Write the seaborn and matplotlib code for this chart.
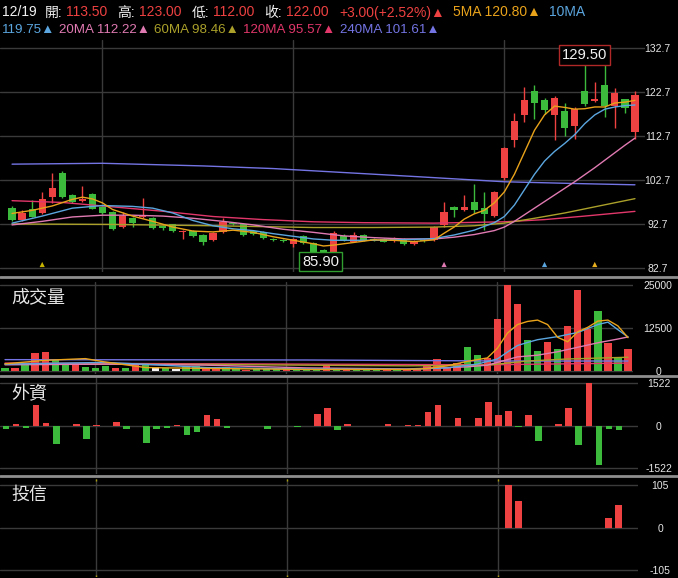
import matplotlib
matplotlib.use("Agg")
import matplotlib.pyplot as plt
from matplotlib.lines import Line2D
import pandas as pd
import seaborn as sns

W, H = 678, 578

# ---- daily K data ----
opens = [96.3, 93.6, 96.0, 95.3, 98.9, 104.2, 99.3, 98.0, 99.5, 96.6,
         95.5, 92.1, 94.0, 94.4, 94.0, 92.3, 92.6, 90.8, 91.1, 90.2,
         89.1, 90.9, 93.0, 92.7, 91.0, 90.8, 89.4, 89.1, 88.2, 90.0,
         88.3, 86.8, 86.4, 90.0, 88.7, 90.2, 89.2, 89.4, 88.9, 89.3,
         88.2, 89.0, 89.1, 92.5, 96.5, 95.8, 97.8, 96.3, 94.6, 103.1,
         111.9, 117.5, 122.9, 120.9, 117.5, 118.4, 115.0, 122.9, 120.7, 124.4,
         119.5, 121.0, 113.5]
highs = [96.8, 95.8, 98.2, 99.9, 104.2, 104.7, 99.6, 101.3, 99.8, 96.9,
         95.7, 95.4, 94.3, 98.5, 94.2, 92.5, 92.8, 91.4, 91.3, 90.4,
         90.8, 94.0, 93.2, 93.0, 91.3, 91.0, 89.6, 89.3, 89.5, 90.3,
         88.5, 87.0, 91.0, 90.4, 90.9, 90.4, 89.5, 89.6, 89.8, 89.5,
         89.0, 89.2, 92.3, 97.8, 96.8, 99.3, 101.9, 99.9, 100.2, 110.3,
         117.9, 123.9, 124.4, 121.3, 121.7, 120.3, 119.2, 129.5, 124.9, 128.8,
         123.6, 121.2, 123.0]
lows = [93.3, 93.3, 94.2, 95.0, 97.4, 98.6, 97.5, 97.6, 96.0, 94.9,
        91.3, 91.9, 92.0, 94.0, 91.5, 91.4, 90.9, 89.3, 89.8, 88.0,
        88.9, 90.7, 92.4, 90.0, 90.3, 89.4, 88.8, 88.6, 87.5, 88.1,
        86.2, 85.9, 86.2, 88.9, 88.5, 88.9, 88.9, 88.5, 88.7, 88.0,
        88.0, 88.6, 88.9, 92.0, 94.2, 95.6, 95.1, 91.3, 94.4, 102.8,
        110.3, 115.8, 116.5, 117.8, 111.8, 112.6, 112.0, 119.6, 120.5, 117.1,
        114.6, 117.9, 112.0]
closes = [93.6, 95.1, 94.4, 98.3, 100.8, 98.9, 97.8, 98.3, 96.2, 95.1,
          91.5, 94.6, 93.0, 94.8, 91.7, 91.7, 91.1, 91.1, 90.0, 88.7,
          90.6, 93.1, 92.8, 90.2, 90.5, 89.6, 89.0, 88.8, 89.3, 88.3,
          86.4, 86.0, 90.6, 89.1, 90.2, 89.1, 89.0, 88.7, 89.3, 88.2,
          88.8, 88.9, 92.1, 95.5, 95.8, 96.5, 95.8, 95.0, 99.9, 109.9,
          116.0, 120.9, 120.1, 118.5, 121.4, 114.6, 118.8, 120.0, 121.1, 119.5,
          122.4, 119.0, 122.0]
month_days = [9, 28, 49]

# moving averages of price (sampled along the lines)
ma5_i = [0, 2, 4, 6, 7, 8, 9, 10, 12, 14, 16, 18, 20, 22, 24, 26, 28, 30, 31, 32, 34, 36, 38, 40, 42,
         43, 44, 45, 46, 47, 48, 49, 50, 51, 52, 53, 54, 55, 56, 57, 58, 59, 60, 61, 62]
ma5_v = [95.1, 95.8, 96.8, 98.3, 98.8, 98.4, 97.5, 96.0, 94.5, 93.3, 92.0, 91.1, 90.9, 91.3, 90.8,
         89.8, 89.0, 88.2, 87.7, 87.9, 88.5, 89.1, 89.0, 88.7, 89.1, 90.6, 92.0, 93.8, 95.0, 95.8,
         97.5, 100.0, 104.0, 109.0, 114.0, 117.5, 119.5, 119.2, 118.8, 118.9, 119.3, 119.3, 120.2,
         120.4, 120.8]
ma10_i = [0, 3, 6, 9, 12, 14, 16, 18, 20, 22, 24, 26, 28, 30, 32, 34, 36, 38, 40, 42, 44, 46, 48,
          49, 50, 51, 52, 53, 54, 55, 56, 57, 58, 59, 60, 61, 62]
ma10_v = [92.9, 94.5, 96.3, 96.9, 96.7, 96.3, 95.2, 93.5, 92.3, 91.6, 91.2, 90.5, 89.9, 89.3, 89.0,
          89.0, 89.0, 89.1, 89.2, 89.4, 90.2, 91.3, 93.0, 94.4, 97.0, 100.5, 104.0, 107.0, 109.2,
          111.0, 113.0, 115.5, 117.5, 118.8, 119.3, 119.6, 119.75]
ma20_i = [0, 3, 6, 9, 12, 15, 18, 21, 24, 27, 30, 33, 36, 39, 42, 44, 46, 48, 49, 50, 51, 52, 53,
          54, 55, 56, 57, 58, 59, 60, 61, 62]
ma20_v = [92.5, 93.3, 94.3, 94.7, 94.7, 94.5, 94.0, 93.3, 92.5, 91.5, 90.8, 90.0, 89.6, 89.3, 89.3,
          89.7, 90.3, 91.2, 92.0, 93.3, 94.8, 96.3, 97.8, 99.3, 100.8, 102.3, 103.9, 105.5, 107.2,
          108.9, 110.6, 112.22]
ma60_i = [0, 10, 20, 30, 36, 42, 46, 49, 52, 55, 58, 62]
ma60_v = [92.7, 92.6, 92.3, 91.9, 91.9, 92.0, 92.3, 92.9, 94.0, 95.2, 96.6, 98.46]
ma120_i = [0, 5, 10, 15, 20, 25, 30, 35, 42, 49, 53, 57, 62]
ma120_v = [98.0, 97.6, 96.6, 95.6, 94.4, 93.7, 93.2, 93.0, 92.9, 93.2, 93.7, 94.5, 95.57]
ma240_i = [0, 9, 19, 26, 33, 40, 49, 56, 62]
ma240_v = [106.3, 106.5, 105.9, 105.3, 104.4, 103.5, 102.3, 101.9, 101.61]

# volume (lots) and up/down/flat colour code
volume = [800, 800, 1900, 5100, 5400, 3200, 1900, 1800, 1250, 800,
          1450, 1000, 800, 1900, 1800, 1250, 1000, 600, 1250, 1450,
          1050, 1050, 1050, 1000, 300, 700, 700, 600, 500, 600,
          600, 700, 1750, 800, 600, 500, 500, 500, 500, 500,
          400, 500, 1360, 3400, 970, 2430, 7000, 4570, 3900, 15000,
          25000, 19400, 8950, 5840, 8460, 6320, 13000, 23500, 12070, 17400,
          8170, 4200, 6500]
vol_dir = "grgrrggrgg" "grgrgwgwgg" "rrggrgggrg" "ggrgrgggrg" "rrrrrrggrr" "rrggrgrrrg" "rgr"

vma5_i = [0, 4, 8, 10, 14, 20, 30, 40, 42, 44, 46, 48, 49, 50, 51, 52, 53, 54, 55, 56, 57, 58, 59, 60, 61, 62]
vma5_v = [2100, 3100, 3600, 2600, 1000, 750, 450, 450, 700, 1500, 2800, 3800, 6600, 11000, 13500,
          14400, 14800, 13500, 9800, 8500, 11400, 12700, 14500, 14800, 13100, 9700]
vma10_i = [0, 10, 15, 20, 30, 40, 44, 47, 49, 50, 51, 52, 53, 55, 57, 59, 60, 61, 62]
vma10_v = [2000, 2500, 1800, 1000, 600, 500, 900, 2000, 3500, 5500, 7400, 8300, 9100, 10000, 11200,
           13500, 14200, 12000, 9900]
vma20_i = [0, 10, 20, 30, 40, 46, 48, 50, 51, 53, 55, 57, 59, 61, 62]
vma20_v = [1800, 2000, 1700, 900, 600, 1200, 1700, 3300, 4100, 4600, 5600, 6900, 8200, 9300, 9900]
vma60_i = [0, 20, 40, 48, 52, 56, 62]
vma60_v = [2000, 1900, 1500, 1700, 2900, 3500, 4000]
vma120_i = [0, 30, 48, 62]
vma120_v = [2300, 2000, 1800, 2300]
vma240_i = [0, 30, 50, 62]
vma240_v = [3300, 3200, 2900, 2900]

# foreign investors net buy/sell (no figure yet for the last day)
foreign = [-118, 60, -83, 743, 94, -650, 0, 70, -484, 35,
           -24, 142, -118, 0, -614, -118, -94, 35, -330, -248,
           366, 248, -83, 0, -24, -35, -118, 0, 0, -59,
           -24, 413, 637, -177, 70, -24, -24, 0, 70, -24,
           35, 35, 484, 731, 0, 271, 0, 260, 826, 366,
           507, -47, 366, -566, 0, 47, 614, -684, 1522, -1416,
           -118, -177]
# investment trust net buy
trust_i = [50, 51, 60, 61]
trust_v = [105, 65, 24, 55]

# header texts
head1 = ["12/19", "開:", "113.50", "高:", "123.00", "低:", "112.00", "收:", "122.00",
         "+3.00(+2.52%)▲", "5MA 120.80▲", "10MA"]
head2 = ["119.75▲", "20MA 112.22▲", "60MA 98.46▲", "120MA 95.57▲", "240MA 101.61▲"]

RED = "#ee4141"
GREEN = "#3cba3c"
WHITE = "#f2f2f2"
C5, C10, C20 = "#e9a31b", "#5ba6df", "#e07ab2"
C60, C120, C240 = "#aaa02a", "#e2376b", "#7474e4"
GRID = "#3a3a3a"
TXT = "#e6e6e6"

sns.set_style("dark", {"axes.facecolor": "black", "figure.facecolor": "black"})
plt.rcParams["font.family"] = ["Liberation Sans", "Noto Sans CJK TC", "DejaVu Sans"]

fig = plt.figure(figsize=(W / 100, H / 100), dpi=100)


def px_axes(left, top, right, bottom):
    return fig.add_axes([left / W, 1 - bottom / H, (right - left) / W, (bottom - top) / H])


def style(ax, ticks, labels, pad):
    ax.set_facecolor("black")
    ax.set_xticks(month_days)
    ax.set_yticks(ticks)
    ax.set_yticklabels(labels)
    ax.yaxis.tick_right()
    ax.tick_params(axis="x", length=0, labelbottom=False)
    ax.tick_params(axis="y", length=0, pad=pad, labelsize=7.5, labelcolor=TXT)
    for lbl in ax.get_yticklabels():
        lbl.set_ha("center")
    ax.grid(True, color=GRID, lw=1)
    for s in ax.spines.values():
        s.set_visible(False)
    ax.set_xlabel("")
    ax.set_ylabel("")


def ma(ax, xs, ys, color):
    sns.lineplot(x=xs, y=ys, ax=ax, color=color, lw=1.0, legend=False, zorder=3)


# ---- price panel ----
ax1 = px_axes(0, 40, 645, 272)
k = pd.DataFrame({"o": opens, "h": highs, "l": lows, "c": closes})
k["x"] = range(len(k))
k["col"] = [RED if c >= o else GREEN for o, c in zip(k.o, k.c)]
k["bot"] = k[["o", "c"]].min(axis=1)
k["hgt"] = (k.c - k.o).abs().clip(lower=0.18)
ax1.vlines(k.x, k.l, k.h, colors=k.col, lw=1, zorder=2)
ax1.bar(k.x, k.hgt, bottom=k.bot, width=0.72, color=k.col, lw=0, zorder=2)
for xs, ys, c in [(ma240_i, ma240_v, C240), (ma120_i, ma120_v, C120), (ma60_i, ma60_v, C60),
                  (ma20_i, ma20_v, C20), (ma10_i, ma10_v, C10), (ma5_i, ma5_v, C5)]:
    ma(ax1, xs, ys, c)
ax1.scatter([3, 43, 53, 58], [83.5] * 4, marker="^", s=14, lw=0,
            color=["#c8b400", C20, C10, "#e8b020"], zorder=4)
ax1.text(57.0, 131.1, "129.50", ha="center", va="center", color=WHITE, fontsize=10.6,
         bbox=dict(boxstyle="square,pad=0.18", fc="black", ec="#b02828", lw=1), zorder=5)
ax1.text(30.7, 84.1, "85.90", ha="center", va="center", color=WHITE, fontsize=10.6,
         bbox=dict(boxstyle="square,pad=0.18", fc="black", ec="#2f9e2f", lw=1), zorder=5)
pt = [82.7, 92.7, 102.7, 112.7, 122.7, 132.7]
style(ax1, pt, [f"{v:.1f}" for v in pt], 9)
ax1.set_xlim(-1.2, 63.0)
ax1.set_ylim(82.7 - 4 / 4.4, 132.7 + 8 / 4.4)

# ---- volume panel ----
ax2 = px_axes(0, 282, 633, 374)
vcol = {"r": RED, "g": GREEN, "w": WHITE}
ax2.bar(range(len(volume)), volume, width=0.73, color=[vcol[d] for d in vol_dir], lw=0, zorder=2)
for xs, ys, c in [(vma240_i, vma240_v, C240), (vma120_i, vma120_v, C120), (vma60_i, vma60_v, C60),
                  (vma20_i, vma20_v, C20), (vma10_i, vma10_v, C10), (vma5_i, vma5_v, C5)]:
    ma(ax2, xs, ys, c)
style(ax2, [0, 12500, 25000], ["0", "12500", "25000"], 18)
ax2.set_xlim(-0.5, 62.5)
ax2.set_ylim(-872, 25872)

# ---- foreign panel ----
ax3 = px_axes(0, 377, 638, 474)
ax3.bar(range(len(foreign)), foreign, width=0.65,
        color=[RED if v > 0 else GREEN for v in foreign], lw=0, zorder=2)
style(ax3, [-1522, 0, 1522], ["-1522", "0", "1522"], 15)
ax3.set_xlim(-0.6, 62.9)
ax3.set_ylim(-1737, 1737)

# ---- investment trust panel ----
ax4 = px_axes(0, 479, 638, 577)
ax4.bar(trust_i, trust_v, width=0.7, color=RED, lw=0, zorder=2)
style(ax4, [-105, 0, 105], ["-105", "0", "105"], 16)
ax4.set_xlim(-0.6, 62.9)
ax4.set_ylim(-122, 120)
# little month markers peeking at the panel edges
ax4.vlines(month_days, 114, 120, colors="#a89a10", lw=1, zorder=3)
ax4.vlines(month_days, -122, -117, colors="#a89a10", lw=1, zorder=3)

# panel separators
for y in [277, 375.5, 476]:
    fig.add_artist(Line2D([0, 1], [1 - y / H] * 2, transform=fig.transFigure, color="#8e8e8e", lw=2))

# panel names
for name, y in [("成交量", 297), ("外資", 394), ("投信", 495)]:
    fig.text(11 / W, 1 - y / H, name, color=TXT, fontsize=13, va="center", ha="left",
             family=["Noto Sans CJK TC"])

# header rows, pieces laid out one after another
renderer = fig.canvas.get_renderer()
cols1 = [WHITE, WHITE, RED, WHITE, RED, WHITE, RED, WHITE, RED, RED, C5, C10]
gaps1 = [8, 4, 10, 4, 10, 4, 10, 4, 10, 8, 8, 0]
cols2 = [C10, C20, C60, C120, C240]
gaps2 = [4, 4, 4, 4, 0]
for txts, cols, gaps, y, fs in [(head1, cols1, gaps1, 16.5, 10), (head2, cols2, gaps2, 33, 9.6)]:
    x = 2
    for s, c, g in zip(txts, cols, gaps):
        t = fig.text(x / W, 1 - y / H, s, color=c, fontsize=fs, va="baseline", ha="left")
        x += t.get_window_extent(renderer).width + g

fig.savefig("out.png", dpi=100, facecolor="black")
